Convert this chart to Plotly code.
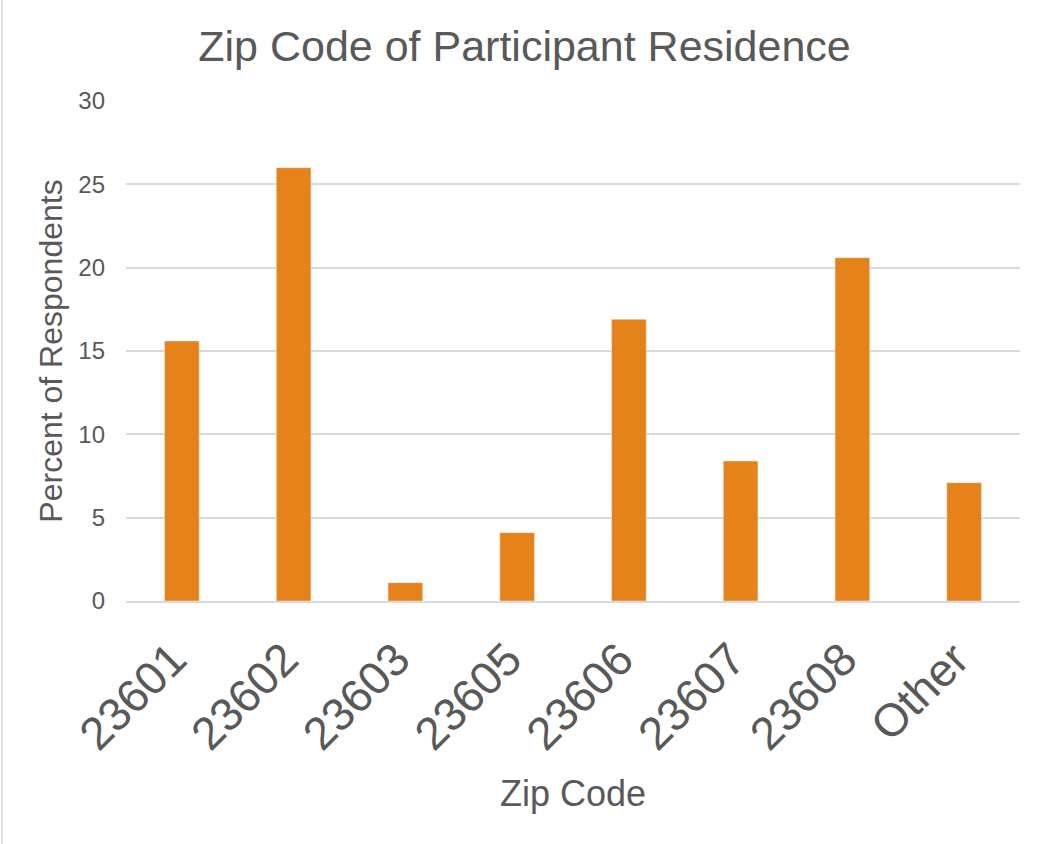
import plotly.graph_objects as go

categories = ["23601", "23602", "23603", "23605", "23606", "23607", "23608", "Other"]
values = [15.6, 26.0, 1.1, 4.1, 16.9, 8.4, 20.6, 7.1]
y_ticks = [0, 5, 10, 15, 20, 25, 30]

TEXT = "#595959"
FONT = "Liberation Sans, Arial, sans-serif"

fig = go.Figure(go.Bar(x=categories, y=values, marker_color="#E6821A", width=0.31))

fig.update_layout(
    width=1049, height=844,
    paper_bgcolor="white", plot_bgcolor="white",
    margin=dict(l=126, r=29, t=101, b=243),
    font=dict(family=FONT, color=TEXT),
    title=dict(text="Zip Code of Participant Residence", x=0.5, xanchor="center",
               xref="container", y=0.945, yanchor="middle",
               font=dict(size=43, color=TEXT, family=FONT)),
    showlegend=False,
)
fig.update_xaxes(
    type="category", tickangle=-45, tickfont=dict(size=46, color=TEXT),
    showline=True, linecolor="#D9D9D9", linewidth=1.5, ticks="",
    ticklabelshift=-9, ticklabelstandoff=11,
    title=dict(text="Zip Code", font=dict(size=36, color=TEXT), standoff=22),
    showgrid=False,
)
fig.update_yaxes(
    range=[0, 30], tickvals=y_ticks, tickfont=dict(size=24, color=TEXT),
    showgrid=True, gridcolor="#D9D9D9", gridwidth=1.5, zeroline=False,
    ticks="", ticklabelstandoff=20,
    title=dict(text="Percent of Respondents", font=dict(size=32, color=TEXT), standoff=6),
)
fig.add_shape(type="line", xref="paper", yref="paper", x0=-0.1387, x1=-0.1387,
              y0=-0.6, y1=1.3, line=dict(color="#D9D9D9", width=1.5))

fig.write_html("out.html", post_script="document.body.style.margin='0';",
               config={"displayModeBar": False})
